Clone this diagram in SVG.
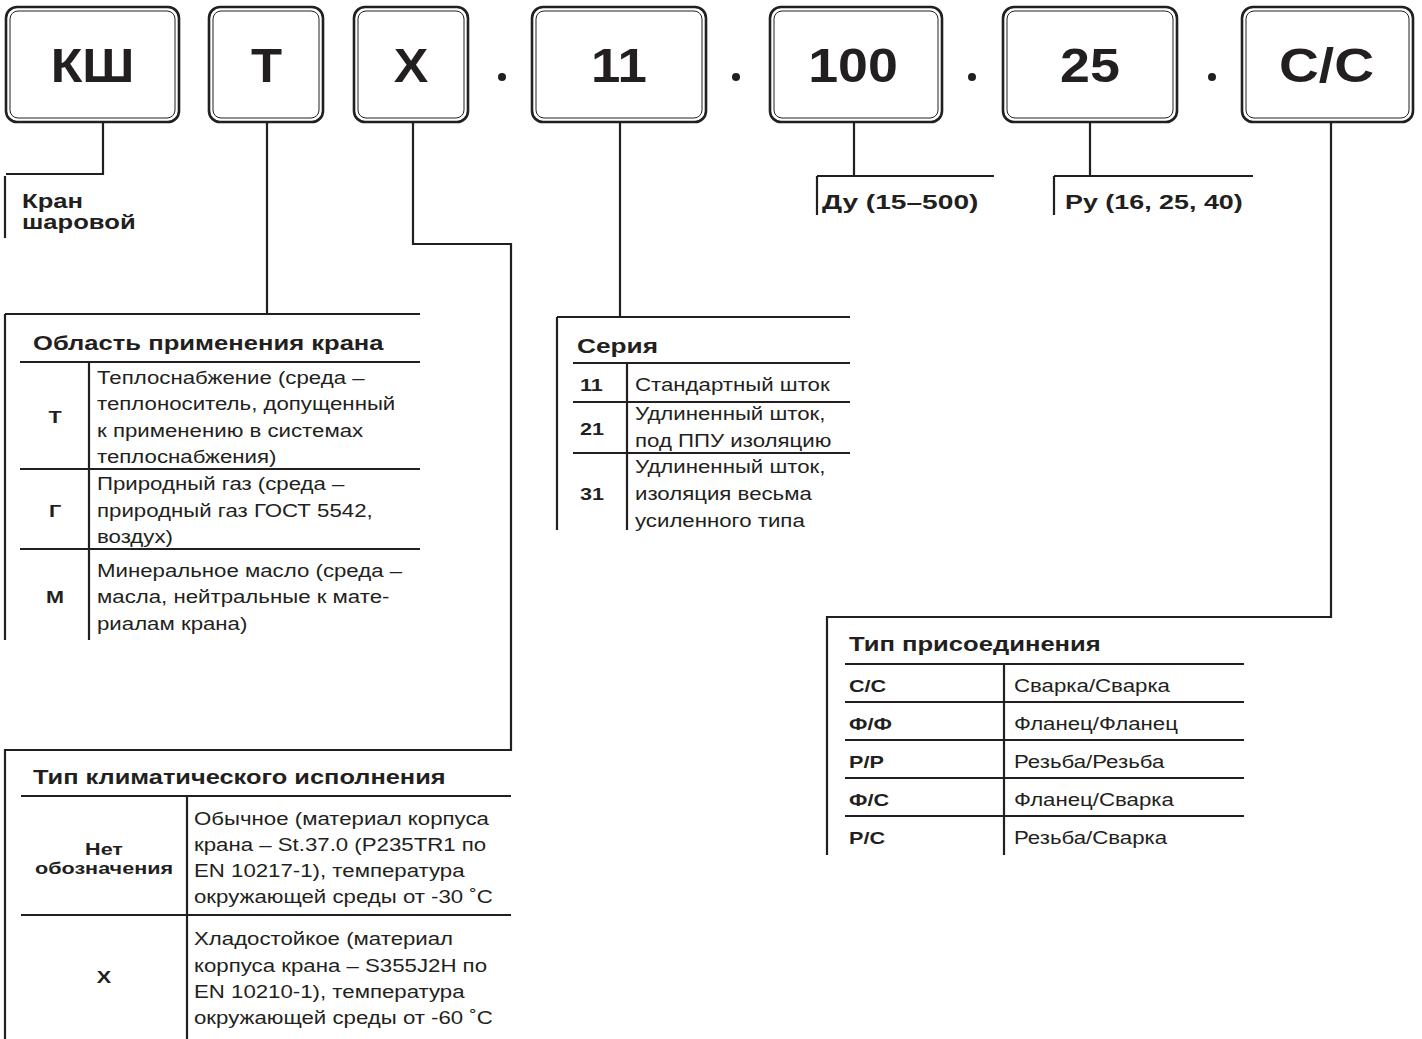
<svg xmlns="http://www.w3.org/2000/svg" width="1422" height="1039" viewBox="0 0 1422 1039">
<style>
.bo{fill:#fff;stroke:#231f20;stroke-width:2.6}
.bi{fill:none;stroke:#231f20;stroke-width:1}
.bt{font-family:"Liberation Sans",Arial,sans-serif;font-weight:bold;font-size:48px;fill:#231f20;text-anchor:middle}
.ln{fill:none;stroke:#231f20;stroke-width:2.2}
.h{font-family:"Liberation Sans",Arial,sans-serif;font-weight:bold;font-size:21px;fill:#231f20}
.k{font-family:"Liberation Sans",Arial,sans-serif;font-weight:bold;font-size:17px;fill:#231f20}
.km{font-family:"Liberation Sans",Arial,sans-serif;font-weight:bold;font-size:17px;fill:#231f20;text-anchor:middle}
.d{font-family:"Liberation Sans",Arial,sans-serif;font-size:17.5px;fill:#231f20}
</style>
<rect width="1422" height="1039" fill="#fff"/>
<g id="box-ksh"><rect class="bo" x="6" y="7" width="173" height="115" rx="11"/><rect class="bi" x="10" y="11" width="165" height="107" rx="8"/><text class="bt" transform="translate(92.5 82) scale(1.08 1)">КШ</text></g>
<g id="box-t"><rect class="bo" x="209" y="7" width="114" height="115" rx="11"/><rect class="bi" x="213" y="11" width="106" height="107" rx="8"/><text class="bt" transform="translate(266.5 82) scale(1.06 1)">Т</text></g>
<g id="box-x"><rect class="bo" x="354" y="7" width="114" height="115" rx="11"/><rect class="bi" x="358" y="11" width="106" height="107" rx="8"/><text class="bt" transform="translate(411 82) scale(1.08 1)">Х</text></g>
<g id="box-11"><rect class="bo" x="532" y="7" width="174" height="115" rx="11"/><rect class="bi" x="536" y="11" width="166" height="107" rx="8"/><text class="bt" transform="translate(619 82) scale(1.1 1)">11</text></g>
<g id="box-100"><rect class="bo" x="770" y="7" width="172" height="115" rx="11"/><rect class="bi" x="774" y="11" width="164" height="107" rx="8"/><text class="bt" transform="translate(853 82) scale(1.12 1)">100</text></g>
<g id="box-25"><rect class="bo" x="1003" y="7" width="174" height="115" rx="11"/><rect class="bi" x="1007" y="11" width="166" height="107" rx="8"/><text class="bt" transform="translate(1090 82) scale(1.12 1)">25</text></g>
<g id="box-cc"><rect class="bo" x="1242" y="7" width="171" height="115" rx="11"/><rect class="bi" x="1246" y="11" width="163" height="107" rx="8"/><text class="bt" transform="translate(1326.5 82) scale(1.15 1)">С/С</text></g>
<g id="dots" fill="#231f20"><circle cx="502" cy="77" r="4"/><circle cx="736" cy="77" r="4"/><circle cx="972" cy="77" r="4"/><circle cx="1212" cy="77" r="4"/></g>

<g id="connectors">
<path class="ln" d="M103 122V174H6M5 176V238"/>
<path class="ln" d="M267 122V314M5 314H420M5 314V640"/>
<path class="ln" d="M413 122V244H511V750H5V1039"/>
<path class="ln" d="M620 122V317M557 317H850M557 317V530"/>
<path class="ln" d="M854 122V176M817 176H994M817 176V215"/>
<path class="ln" d="M1090 122V176M1054 176H1253M1054 176V215"/>
<path class="ln" d="M1331 122V617H827V855"/>
</g>

<g id="ksh-label" transform="translate(22 0) scale(1.22 1)"><text class="h" x="0" y="208">Кран</text><text class="h" x="0" y="229">шаровой</text></g>
<g id="du-label" transform="translate(822 0) scale(1.34 1)"><text class="h" x="0" y="209">Ду (15–500)</text></g>
<g id="pu-label" transform="translate(1065 0) scale(1.28 1)"><text class="h" x="0" y="209">Ру (16, 25, 40)</text></g>

<g id="table-oblast">
<text class="h" transform="translate(33 350) scale(1.22 1)">Область применения крана</text>
<path class="ln" d="M20 362H420M20 469H420M20 549H420M89 362V640"/>
<g transform="translate(55 0) scale(1.27 1)">
<text class="km" x="0" y="423">Т</text>
<text class="km" x="0" y="517">Г</text>
<text class="km" x="0" y="603">М</text>
</g>
<g transform="translate(97 0) scale(1.27 1)">
<text class="d" x="0" y="384">Теплоснабжение (среда –</text>
<text class="d" x="0" y="410">теплоноситель, допущенный</text>
<text class="d" x="0" y="437">к применению в системах</text>
<text class="d" x="0" y="463">теплоснабжения)</text>
<text class="d" x="0" y="490">Природный газ (среда –</text>
<text class="d" x="0" y="517">природный газ ГОСТ 5542,</text>
<text class="d" x="0" y="543">воздух)</text>
<text class="d" x="0" y="577">Минеральное масло (среда –</text>
<text class="d" x="0" y="603">масла, нейтральные к мате-</text>
<text class="d" x="0" y="630">риалам крана)</text>
</g>
</g>

<g id="table-seria">
<text class="h" transform="translate(577 353) scale(1.25 1)">Серия</text>
<path class="ln" d="M573 363H850M573 402H850M573 453H850M627 363V530"/>
<g transform="translate(580 0) scale(1.27 1)">
<text class="k" x="0" y="391">11</text>
<text class="k" x="0" y="435">21</text>
<text class="k" x="0" y="500">31</text>
</g>
<g transform="translate(635 0) scale(1.27 1)">
<text class="d" x="0" y="391">Стандартный шток</text>
<text class="d" x="0" y="420">Удлиненный шток,</text>
<text class="d" x="0" y="447">под ППУ изоляцию</text>
<text class="d" x="0" y="473">Удлиненный шток,</text>
<text class="d" x="0" y="500">изоляция весьма</text>
<text class="d" x="0" y="527">усиленного типа</text>
</g>
</g>

<g id="table-klimat">
<text class="h" transform="translate(33 784) scale(1.21 1)">Тип климатического исполнения</text>
<path class="ln" d="M21 796H511M21 915H511M187 796V1039"/>
<g transform="translate(104 0) scale(1.27 1)">
<text class="km" x="0" y="855">Нет</text>
<text class="km" x="0" y="874">обозначения</text>
<text class="km" x="0" y="983">Х</text>
</g>
<g transform="translate(194 0) scale(1.27 1)">
<text class="d" x="0" y="825">Обычное (материал корпуса</text>
<text class="d" x="0" y="851">крана – St.37.0 (P235TR1 по</text>
<text class="d" x="0" y="877">EN 10217-1), температура</text>
<text class="d" x="0" y="903">окружающей среды от -30 ˚С</text>
<text class="d" x="0" y="945">Хладостойкое (материал</text>
<text class="d" x="0" y="972">корпуса крана – S355J2H по</text>
<text class="d" x="0" y="998">EN 10210-1), температура</text>
<text class="d" x="0" y="1024">окружающей среды от -60 ˚С</text>
</g>
</g>

<g id="table-prisoed">
<text class="h" transform="translate(849 651) scale(1.22 1)">Тип присоединения</text>
<path class="ln" d="M845 664H1244M845 702H1244M845 740H1244M845 778H1244M845 816H1244M1004 664V855"/>
<g transform="translate(849 0) scale(1.27 1)">
<text class="k" x="0" y="692">С/С</text>
<text class="k" x="0" y="730">Ф/Ф</text>
<text class="k" x="0" y="768">Р/Р</text>
<text class="k" x="0" y="806">Ф/С</text>
<text class="k" x="0" y="844">Р/С</text>
</g>
<g transform="translate(1014 0) scale(1.27 1)">
<text class="d" x="0" y="692">Сварка/Сварка</text>
<text class="d" x="0" y="730">Фланец/Фланец</text>
<text class="d" x="0" y="768">Резьба/Резьба</text>
<text class="d" x="0" y="806">Фланец/Сварка</text>
<text class="d" x="0" y="844">Резьба/Сварка</text>
</g>
</g>
</svg>
